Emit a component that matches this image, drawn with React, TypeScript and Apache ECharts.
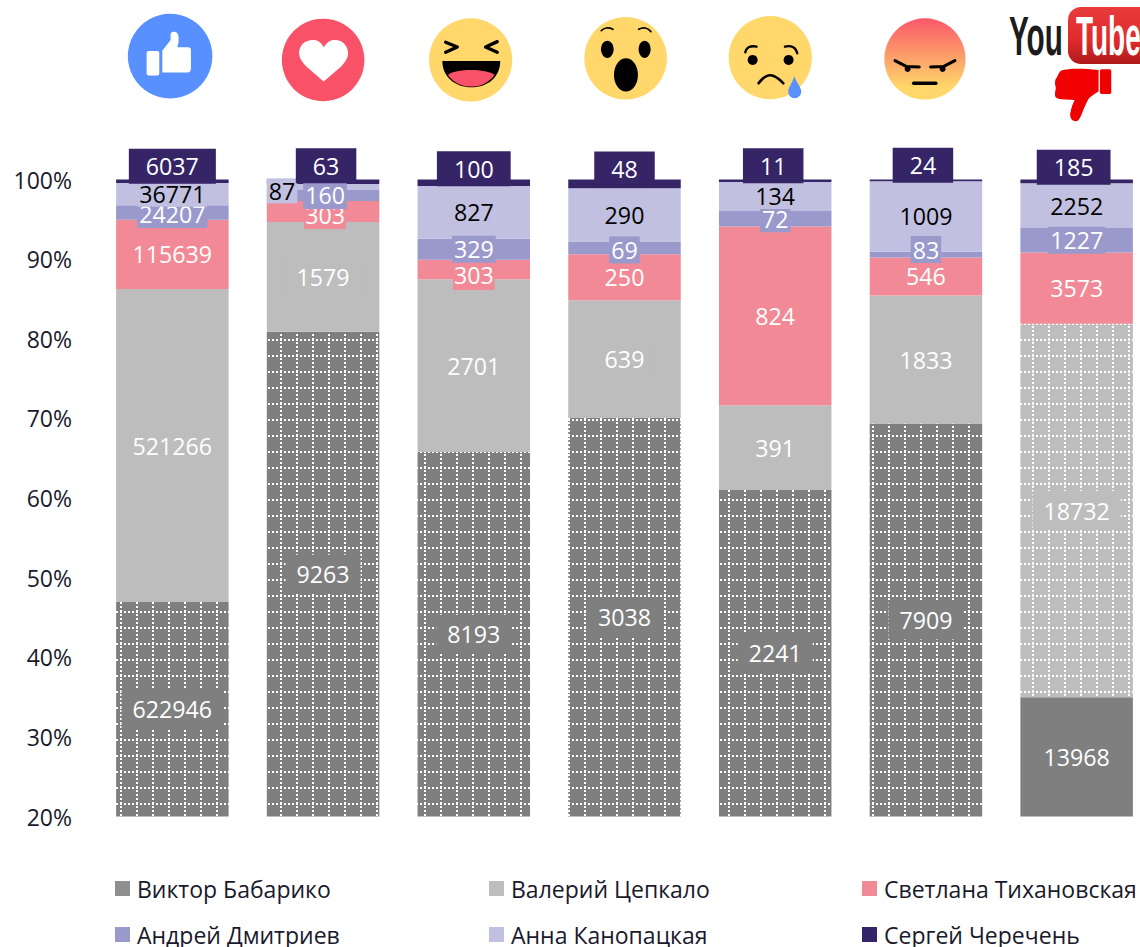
import React, { useEffect, useRef } from "react";
import * as echarts from "echarts";

const categories = ["Like", "Love", "Haha", "Wow", "Sad", "Angry", "Dislike"];
const babariko = [622946, 9263, 8193, 3038, 2241, 7909, 13968];
const tsepkalo = [521266, 1579, 2701, 639, 391, 1833, 18732];
const tikhanovskaya = [115639, 303, 303, 250, 824, 546, 3573];
const dmitriev = [24207, 160, 329, 69, 72, 83, 1227];
const kanopatskaya = [36771, 87, 827, 290, 134, 1009, 2252];
const cherechen = [6037, 63, 100, 48, 11, 24, 185];
const yTicks = { min: 20, max: 100, interval: 10 };

const FONT = "'Open Sans', sans-serif";
const INK = "#1a1a2c";
const ICON_FILL = "#ffd76a";
const BLUE = "#5890ff";
const RED = "#f95268";

// small shifts of individual value labels: "series-category": [dx, dy]
const labelShift: Record<string, [number, number]> = {
  "2-1": [2, 3],
  "2-2": [0, 6],
  "3-0": [0, 2],
  "3-1": [2, 0],
  "3-3": [0, 2],
  "3-5": [0, -5],
  "4-1": [-41, 4],
  "5-1": [3, -16],
  "5-2": [0, -14],
  "5-4": [-2, -15],
  "5-5": [-3, -15],
  "5-6": [-3, -14],
};

function tile(color: string) {
  const c = document.createElement("canvas");
  c.width = 16;
  c.height = 16;
  const g = c.getContext("2d")!;
  g.fillStyle = color;
  g.fillRect(0, 0, 16, 16);
  g.fillStyle = "#ffffff";
  for (let i = 0; i < 16; i += 4) {
    g.fillRect(i, 3, 2, 2);
    g.fillRect(8, (i + 2) % 16, 2, 2);
  }
  return { image: c, repeat: "repeat" };
}

const svgShapes: Record<string, string> = {
  thumbUp: "M127 122 L152 90 L152 74 C152 66 158 65 163 65 C172 66 176 72 176 82 L176 96 L172 112 L205 112 C211 112 214 116 213 122 L213 176 C213 184 209 188 203 188 L127 188 Z",
  heart: "M672 245 C640 215 598 190 598 160 C598 135 615 120 640 120 C655 120 665 128 672 142 C680 128 690 120 705 120 C730 120 745 138 745 160 C745 190 705 215 672 245 Z",
  hahaMouth: "M67 153 L241 153 C241 200 205 232 154 232 C105 232 67 200 67 153 Z",
  hahaTongue: "M84 195 C105 175 200 175 224 195 C205 220 180 230 154 230 C125 230 100 218 84 195 Z",
  tear: "M223 198 C230 220 244 230 244 245 C244 257 235 265 224 265 C213 265 205 257 205 245 C205 230 218 220 223 198 Z",
  thumbDown: "M1085 212 C1110 204 1150 206 1197 210 L1197 275 C1180 285 1170 292 1165 300 C1155 318 1150 335 1145 345 C1140 358 1135 364 1128 364 C1116 364 1110 352 1112 340 C1115 322 1120 310 1125 300 L1085 298 C1072 296 1065 292 1066 282 C1066 272 1070 268 1068 260 C1064 250 1066 238 1072 232 C1076 225 1078 216 1085 212 Z",
};
Object.entries(svgShapes).forEach(([k, d]) => {
  echarts.graphic.registerShape(k, echarts.graphic.extendPath(d, {}));
});

const stroke = (points: number[][], lineWidth: number) => ({
  type: "polyline",
  shape: { points, smooth: 0.5 },
  style: { fill: "none", stroke: "#000", lineWidth, lineCap: "round", lineJoin: "round" },
});
const straight = (points: number[][], lineWidth: number) => ({
  type: "polyline",
  shape: { points },
  style: { fill: "none", stroke: "#000", lineWidth, lineCap: "round", lineJoin: "round" },
});
const group = (x: number, y: number, children: any[]) => ({
  type: "group",
  x,
  y,
  scaleX: 1 / 3,
  scaleY: 1 / 3,
  silent: true,
  children,
});
const disc = (cx: number, cy: number, r: number, fill: any) => ({
  type: "circle",
  shape: { cx, cy, r },
  style: { fill },
});
const oval = (cx: number, cy: number, rx: number, ry: number) => ({
  type: "ellipse",
  shape: { cx, cy, rx, ry },
  style: { fill: "#000" },
});

const icons = [
  group(120, 10, [
    disc(150.5, 138.5, 127, BLUE),
    { type: "rect", shape: { x: 80, y: 123, width: 38, height: 74, r: 6 }, style: { fill: "#fff" } },
    { type: "thumbUp", style: { fill: "#fff" } },
  ]),
  group(100, 0, [disc(670, 180, 124, RED), { type: "heart", style: { fill: "#fff" } }]),
  group(420, 10, [
    disc(152, 150, 125, ICON_FILL),
    straight([[77, 97], [112, 111], [77, 127]], 10),
    straight([[232, 95], [197, 111], [232, 127]], 10),
    { type: "hahaMouth", style: { fill: "#000" } },
    { type: "hahaTongue", style: { fill: RED } },
  ]),
  group(578, 10, [
    disc(143, 145, 124, ICON_FILL),
    oval(88, 118, 19, 26),
    oval(200, 118, 18, 26),
    oval(144, 195, 36, 50),
    stroke([[70, 62], [85, 54], [105, 58]], 5),
    stroke([[182, 58], [202, 54], [219, 65]], 5),
  ]),
  group(720, 10, [
    disc(151, 143, 125, ICON_FILL),
    disc(98, 150, 15, "#000"),
    disc(206, 150, 15, "#000"),
    stroke([[76, 127], [86, 112], [110, 110]], 7),
    stroke([[195, 110], [220, 112], [232, 130]], 7),
    stroke([[116, 220], [150, 196], [190, 220]], 8),
    { type: "tear", style: { fill: BLUE } },
  ]),
  group(875, 10, [
    disc(150, 147, 122, {
      type: "linear",
      x: 0,
      y: 0,
      x2: 0,
      y2: 1,
      colorStops: [
        { offset: 0, color: "#f9586a" },
        { offset: 0.85, color: ICON_FILL },
        { offset: 1, color: ICON_FILL },
      ],
    }),
    straight([[60, 152], [95, 170], [133, 171]], 9),
    straight([[240, 152], [205, 170], [167, 171]], 9),
    disc(98, 177, 9, "#000"),
    disc(203, 177, 9, "#000"),
    straight([[116, 220], [183, 220]], 10),
  ]),
  {
    type: "text",
    x: 1009,
    y: 35,
    scaleX: 0.53,
    silent: true,
    style: { text: "You", font: "bold 56px 'Liberation Sans', sans-serif", fill: "#1c1c1c", verticalAlign: "middle" },
  },
  {
    type: "rect",
    silent: true,
    shape: { x: 1068, y: 7, width: 100, height: 57, r: 13 },
    style: {
      fill: {
        type: "linear",
        x: 0,
        y: 0,
        x2: 0,
        y2: 1,
        colorStops: [
          { offset: 0, color: "#e83c3c" },
          { offset: 0.6, color: "#e02a2a" },
          { offset: 1, color: "#ad1a1a" },
        ],
      },
    },
  },
  {
    type: "text",
    x: 1076,
    y: 35,
    scaleX: 0.5,
    silent: true,
    style: { text: "Tube", font: "bold 56px 'Liberation Sans', sans-serif", fill: "#ffffff", verticalAlign: "middle" },
  },
  group(700, 0, [
    { type: "thumbDown", style: { fill: "#f00000" } },
    { type: "rect", shape: { x: 1201, y: 208, width: 34, height: 74, r: 5 }, style: { fill: "#f00000" } },
  ]),
];

export default function App() {
  const ref = useRef<HTMLDivElement>(null);
  useEffect(() => {
    const chart = echarts.init(ref.current!, undefined, { renderer: "svg" });
    const columns = [babariko, tsepkalo, tikhanovskaya, dmitriev, kanopatskaya, cherechen];
    const totals = categories.map((_, i) => columns.reduce((s, col) => s + col[i], 0));
    const darkPattern = tile("#7f7f7f");
    const lightPattern = tile("#bdbdbd");

    const defs = [
      { name: "Виктор Бабарико", color: "#7f7f7f", text: "#fff", padding: [8, 11], dy: 0, pattern: (i: number) => (i < 6 ? darkPattern : null) },
      { name: "Валерий Цепкало", color: "#bdbdbd", text: "#fff", padding: [8, 11], dy: 0, pattern: (i: number) => (i === 6 ? lightPattern : null) },
      { name: "Светлана Тихановская", color: "#f18a96", text: "#fff", padding: [3, 1], dy: 0, pattern: () => null },
      { name: "Андрей Дмитриев", color: "#9a99cb", text: "#fff", padding: [2, 2], dy: 0, pattern: () => null },
      { name: "Анна Канопацкая", color: "#c1c0e0", text: "#000", padding: [1, 2], dy: 0, pattern: () => null },
      { name: "Сергей Черечень", color: "#352567", text: "#fff", padding: [6, 17], dy: -15, pattern: () => null },
    ];

    const series = defs.map((d, s) => ({
      type: "bar",
      name: d.name,
      stack: "share",
      barWidth: 112.5,
      itemStyle: { color: d.color },
      label: {
        show: true,
        position: "inside",
        fontFamily: FONT,
        fontSize: 23.2,
        lineHeight: 23,
        color: d.text,
        backgroundColor: d.color,
        padding: d.padding,
        formatter: (p: any) => String(columns[s][p.dataIndex]),
      },
      data: columns[s].map((v, i) => {
        const pat = d.pattern(i);
        const shift = labelShift[`${s}-${i}`];
        return {
          value: (v / totals[i]) * 100,
          ...(pat ? { itemStyle: { color: pat } } : {}),
          label: { offset: shift ? shift : [0, d.dy] },
        };
      }),
    }));

    const legendBase = {
      orient: "vertical",
      icon: "rect",
      itemWidth: 15,
      itemHeight: 15,
      itemGap: 23,
      selectedMode: false,
      padding: 0,
      textStyle: { fontFamily: FONT, fontSize: 23, color: INK, padding: [0, 0, 0, 2] },
    };

    chart.setOption({
      animation: false,
      backgroundColor: "#ffffff",
      grid: { left: 97, width: 1055, top: 179.5, height: 637, outerBoundsMode: "none" },
      xAxis: { type: "category", data: categories, show: false },
      yAxis: {
        type: "value",
        ...yTicks,
        axisLine: { show: false },
        axisTick: { show: false },
        splitLine: { show: false },
        axisLabel: { formatter: "{value}%", margin: 25, fontFamily: FONT, fontSize: 23, color: INK, padding: [0, 0, 5, 0] },
      },
      legend: [
        { ...legendBase, left: 115, top: 877, data: [{ name: defs[0].name, itemStyle: { color: "#8f8f8f" } }, defs[3].name] },
        { ...legendBase, left: 489, top: 877, data: [defs[1].name, defs[4].name] },
        { ...legendBase, left: 862, top: 877, data: [defs[2].name, defs[5].name] },
      ],
      graphic: icons,
      series,
    });
    return () => chart.dispose();
  }, []);
  return <div ref={ref} style={{ position: "absolute", left: 0, top: 0, width: 1140, height: 947 }} />;
}
